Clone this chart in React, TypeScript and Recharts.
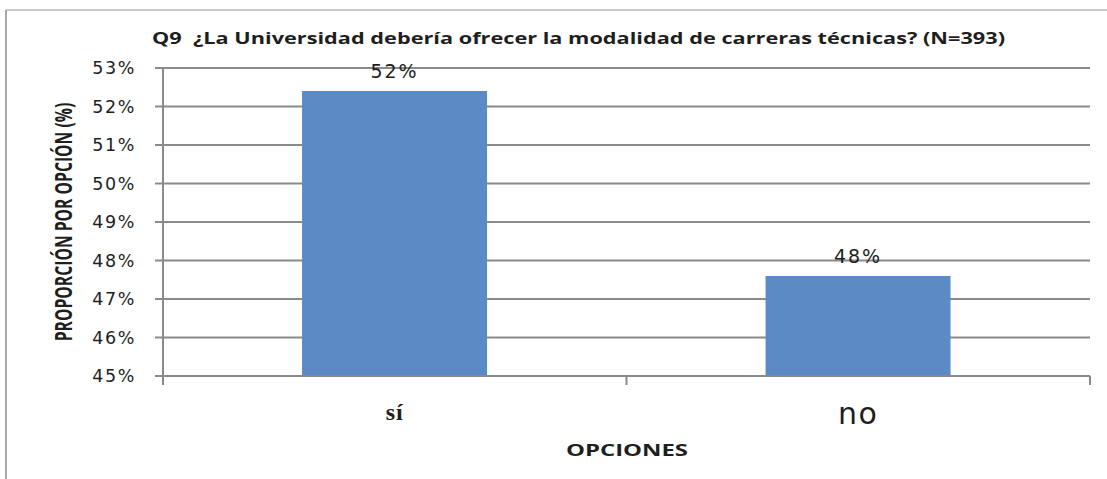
import React from "react";
import { BarChart, Bar, XAxis, YAxis, CartesianGrid, LabelList } from "recharts";

const categories = ["sí", "no"];
const values = [52.4, 47.6];
const yTicks = [45, 46, 47, 48, 49, 50, 51, 52, 53];
const title = "Q9  ¿La Universidad debería ofrecer la modalidad de carreras técnicas? (N=393)";
const yLabel = "PROPORCIÓN POR OPCIÓN (%)";
const xLabel = "OPCIONES";

const data = categories.map((c, i) => ({ name: c, value: values[i] }));

const W = 1107;
const H = 479;
const GRID = "#8a8a8a";
const TEXT = "#1e1e1e";

const catStyles = [
  { fontFamily: "'Liberation Serif', 'DejaVu Serif', serif", fontWeight: 700, fontSize: 24, letterSpacing: 1, dy: 44 },
  { fontFamily: "'DejaVu Sans', Verdana, sans-serif", fontWeight: 400, fontSize: 30, letterSpacing: 1.5, dy: 48 },
];

const XTick = (props: any) => {
  const { x, y, payload, index } = props;
  const off = payload && typeof payload.offset === "number" ? payload.offset : 0;
  const st = catStyles[index % catStyles.length];
  return (
    <g>
      {index === 0 && (
        <line x1={x - off} x2={x - off} y1={y} y2={y + 9} stroke={GRID} strokeWidth={2} />
      )}
      <line x1={x + off} x2={x + off} y1={y} y2={y + 9} stroke={GRID} strokeWidth={2} />
      <text
        x={x}
        y={y + st.dy}
        textAnchor="middle"
        fill={TEXT}
        fontFamily={st.fontFamily}
        fontWeight={st.fontWeight}
        fontSize={st.fontSize}
        letterSpacing={st.letterSpacing}
      >
        {payload.value}
      </text>
    </g>
  );
};

export default function App() {
  return (
    <div style={{ position: "absolute", left: 0, top: 0, width: W, height: H, background: "#fff" }}>
      <BarChart
        width={W}
        height={H}
        data={data}
        margin={{ top: 68, right: 17, bottom: 43, left: 63 }}
        barCategoryGap="30%"
      >
        <CartesianGrid vertical={false} stroke={GRID} strokeWidth={2} />
        <XAxis
          dataKey="name"
          height={60}
          axisLine={{ stroke: GRID, strokeWidth: 2 }}
          tickLine={false}
          tickSize={0}
          tickMargin={0}
          tick={<XTick />}
          interval={0}
        />
        <YAxis
          width={100}
          domain={[45, 53]}
          ticks={yTicks}
          allowDataOverflow
          axisLine={{ stroke: GRID, strokeWidth: 2 }}
          tickLine={{ stroke: GRID, strokeWidth: 2 }}
          tickSize={8}
          tickMargin={19}
          tickFormatter={(v: number) => `${v}%`}
          tick={{ fill: TEXT, fontSize: 17.5, fontFamily: "'DejaVu Sans', Verdana, sans-serif", letterSpacing: 1.6 }}
        />
        <Bar dataKey="value" fill="#5b8ac4" isAnimationActive={false}>
          <LabelList
            dataKey="value"
            position="top"
            offset={13}
            formatter={(v: any) => `${Math.round(Number(v))}%`}
            fill={TEXT}
            fontSize={19}
            fontFamily="'DejaVu Sans', Verdana, sans-serif"
            letterSpacing={2}
          />
        </Bar>
      </BarChart>
      <svg
        width={W}
        height={H}
        style={{ position: "absolute", left: 0, top: 0, pointerEvents: "none" }}
      >
        <line x1={6} x2={W} y1={10} y2={10} stroke="#c8c8c8" strokeWidth={2} />
        <line x1={6} x2={6} y1={10} y2={H} stroke="#a8a8a8" strokeWidth={2} />
        <text
          x={152}
          y={44}
          fill={TEXT}
          fontFamily="'Open Sans', 'Liberation Sans', sans-serif"
          fontWeight={700}
          fontSize={16.5}
          textLength={853}
          lengthAdjust="spacingAndGlyphs"
          style={{ whiteSpace: "pre" }}
        >
          {title}
        </text>
        <text
          transform="translate(72, 222) rotate(-90) scale(0.655, 1)"
          textAnchor="middle"
          fill={TEXT}
          fontFamily="'Open Sans', 'Liberation Sans', sans-serif"
          fontWeight={700}
          fontSize={24}
        >
          {yLabel}
        </text>
        <text
          x={566}
          y={456}
          fill={TEXT}
          fontFamily="'Open Sans', 'Liberation Sans', sans-serif"
          fontWeight={700}
          fontSize={16.5}
          textLength={122}
          lengthAdjust="spacingAndGlyphs"
        >
          {xLabel}
        </text>
      </svg>
    </div>
  );
}
